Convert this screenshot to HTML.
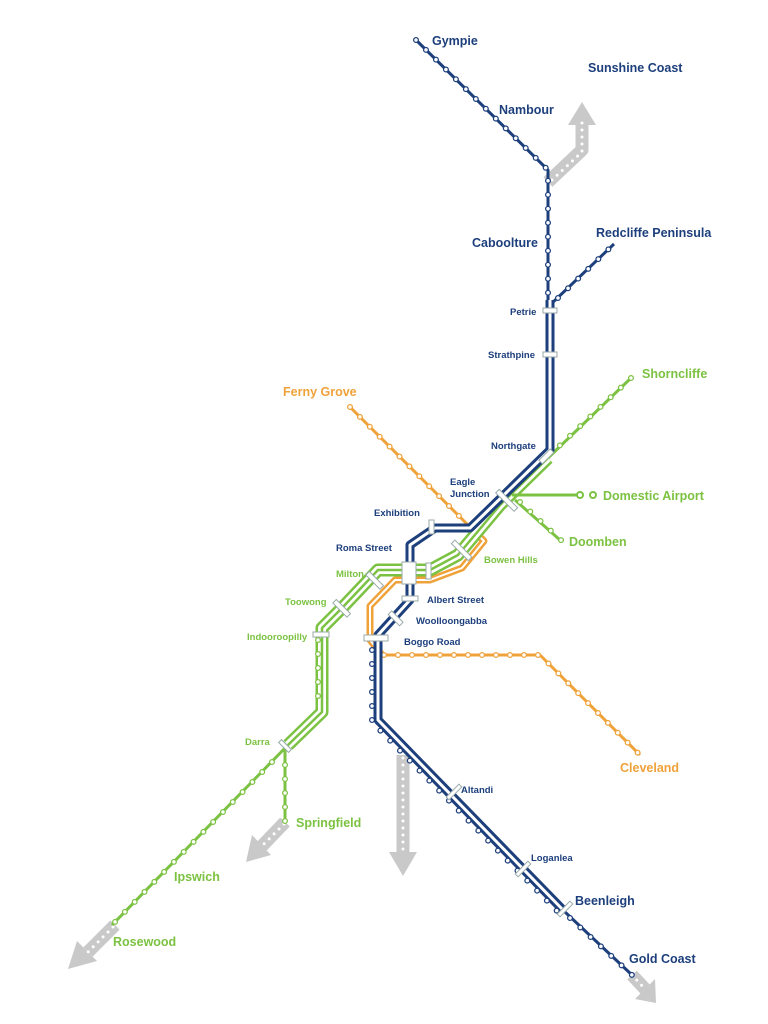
<!DOCTYPE html>
<html><head><meta charset="utf-8"><style>
html,body{margin:0;padding:0;background:#fff;}
svg{display:block}
text{font-family:"Liberation Sans",sans-serif;font-weight:bold}
</style></head><body>
<svg width="768" height="1024" viewBox="0 0 768 1024" xmlns="http://www.w3.org/2000/svg">
<defs>
<style>
.n{stroke:#1d3f7c;fill:none;stroke-linejoin:round}
.g{stroke:#7cc242;fill:none;stroke-linejoin:round}
.o{stroke:#f0a23a;fill:none;stroke-linejoin:round}
.w{stroke:#fff;fill:none;stroke-linejoin:round}
.ar{stroke:#c9c9c9;fill:none;stroke-width:13;stroke-linejoin:round}
.ad{stroke:#fff;fill:none;stroke-width:3;stroke-dasharray:0 7;stroke-linecap:round}
.dn{stroke:#1d3f7c;stroke-width:6;stroke-dasharray:0 14;stroke-linecap:round;fill:none}
.dw{stroke:#fff;stroke-width:3.5;stroke-dasharray:0 14;stroke-linecap:round;fill:none}
.dg{stroke:#7cc242;stroke-width:6;stroke-dasharray:0 14;stroke-linecap:round;fill:none}
.do{stroke:#f0a23a;stroke-width:6;stroke-dasharray:0 14;stroke-linecap:round;fill:none}
.bar{fill:#fff;stroke:#9aa;stroke-width:1}
</style>
</defs>
<!-- grey arrows -->
<polyline class="ar" points="548,182 582,150 582,125"/><polygon points="568,125 596,125 582,102" fill="#c9c9c9"/>
<polyline class="ad" points="552,180 582,152 582,122"/>
<polyline class="ar" points="403,755 403,855"/><polygon points="389,852 417,852 403,876" fill="#c9c9c9"/>
<polyline class="ad" points="403,758 403,852"/>
<polyline class="ar" points="285,822 262,846"/><polygon points="252,835 271,855 246,862" fill="#c9c9c9"/>
<polyline class="ad" points="284,824 262,846"/>
<polyline class="ar" points="115,925 88,952"/><polygon points="77,941 97,961 68,969" fill="#c9c9c9"/>
<polyline class="ad" points="113,927 88,952"/>
<polyline class="ar" points="632,975 646,990"/><polygon points="655,979 635,999 656,1003" fill="#c9c9c9"/>
<polyline class="ad" points="632,975 646,990"/>

<!-- orange -->
<polyline class="o" stroke-width="3" points="350,407 470,527"/>
<polyline class="o" stroke-width="7" points="470,527 484,541 462,568 430,580 395,580 370,606 370,640 382,655"/>
<polyline class="w" stroke-width="2" points="470,527 484,541 462,568 430,580 395,580 370,606 370,640 382,655"/>
<polyline class="o" stroke-width="3" points="380,655 540,655 640,755"/>
<polyline class="do" points="350,407 468,525"/><polyline class="dw" points="350,407 468,525"/>
<polyline class="do" points="384,655 540,655 640,755"/><polyline class="dw" points="384,655 540,655 640,755"/>

<!-- green -->
<polyline class="g" stroke-width="3" points="631,378 548,458"/>
<polyline class="g" stroke-width="13" points="548,458 500,505 458,555 430,570 378,570 342,608 322,628 322,712 288,745"/>
<polyline class="w" stroke-width="8" points="548,458 500,505 458,555 430,570 378,570 342,608 322,628 322,712 288,745"/>
<polyline class="g" stroke-width="2.5" points="548,458 500,505 458,555 430,570 378,570 342,608 322,628 322,712 288,745"/>
<polyline class="g" stroke-width="3" points="288,745 112,925"/>
<polyline class="g" stroke-width="3" points="285,748 285,822"/>
<polyline class="g" stroke-width="3" points="512,495 580,495"/>
<polyline class="g" stroke-width="3" points="515,500 560,540"/>
<polyline class="dg" points="631,378 555,450"/><polyline class="dw" points="631,378 555,450"/>
<polyline class="dg" points="272,762 112,925"/><polyline class="dw" points="272,762 112,925"/>
<polyline class="dg" points="285,765 285,822"/><polyline class="dw" points="285,765 285,822"/>
<polyline class="dg" points="318,640 318,705"/><polyline class="dw" points="318,640 318,705"/>
<polyline class="dg" points="520,502 562,541"/><polyline class="dw" points="520,502 562,541"/>
<circle cx="580" cy="495" r="3" fill="#fff" stroke="#7cc242" stroke-width="2"/><circle cx="593" cy="495" r="3" fill="#fff" stroke="#7cc242" stroke-width="2"/>

<!-- navy -->
<polyline class="n" stroke-width="3" points="416,40 548,170 548,300"/>
<polyline class="n" stroke-width="3" points="550,305 614,244"/>
<polyline class="n" stroke-width="9" points="550,300 550,450 470,528 435,528 410,545 410,600 378,635 378,720 565,912"/>
<polyline class="w" stroke-width="3" points="550,300 550,450 470,528 435,528 410,545 410,600 378,635 378,720 565,912"/>
<polyline class="n" stroke-width="3" points="565,912 632,975"/>
<polyline class="dn" points="416,40 548,170 548,300"/><polyline class="dw" points="416,40 548,170 548,300"/>
<polyline class="dn" points="558,298 614,244"/><polyline class="dw" points="558,298 614,244"/>
<polyline class="dn" points="372,650 372,722 558,912"/><polyline class="dw" points="372,650 372,722 558,912"/>
<polyline class="dn" points="570,918 632,975"/><polyline class="dw" points="570,918 632,975"/>

<!-- station bars -->
<rect class="bar" x="543" y="308" width="14" height="5"/>
<rect class="bar" x="543" y="352" width="14" height="5"/>
<rect class="bar" x="538" y="454" width="16" height="5" transform="rotate(-45 546 456)"/>
<rect class="bar" x="494" y="498" width="26" height="5" transform="rotate(45 507 500)"/>
<rect class="bar" x="429" y="520" width="5" height="14"/>
<rect class="bar" x="402" y="562" width="14" height="22"/>
<rect class="bar" x="426" y="563" width="5" height="16"/>
<rect class="bar" x="402" y="596" width="16" height="5"/>
<rect class="bar" x="388" y="616" width="16" height="5" transform="rotate(45 396 618)"/>
<rect class="bar" x="364" y="635" width="24" height="6"/>
<rect class="bar" x="445" y="790" width="18" height="4" transform="rotate(-45 454 792)"/>
<rect class="bar" x="514" y="867" width="18" height="4" transform="rotate(-45 523 869)"/>
<rect class="bar" x="556" y="907" width="18" height="4" transform="rotate(-45 565 909)"/>
<rect class="bar" x="450" y="548" width="24" height="5" transform="rotate(45 462 550)"/>
<rect class="bar" x="365" y="578" width="20" height="5" transform="rotate(45 375 580)"/>
<rect class="bar" x="332" y="606" width="20" height="5" transform="rotate(45 342 608)"/>
<rect class="bar" x="313" y="632" width="16" height="5"/>
<rect class="bar" x="278" y="744" width="14" height="4" transform="rotate(45 285 746)"/>

<!-- labels -->
<g fill="#1d3f7c">
<text x="432" y="45" font-size="12.5">Gympie</text>
<text x="588" y="72" font-size="12.5">Sunshine Coast</text>
<text x="499" y="114" font-size="12.5">Nambour</text>
<text x="472" y="247" font-size="12.5">Caboolture</text>
<text x="596" y="237" font-size="12.5">Redcliffe Peninsula</text>
<text x="510" y="315" font-size="9.5">Petrie</text>
<text x="488" y="358" font-size="9.5">Strathpine</text>
<text x="491" y="449" font-size="9.5">Northgate</text>
<text x="450" y="485" font-size="9.5">Eagle</text>
<text x="450" y="497" font-size="9.5">Junction</text>
<text x="374" y="516" font-size="9.5">Exhibition</text>
<text x="336" y="551" font-size="9.5">Roma Street</text>
<text x="427" y="603" font-size="9.5">Albert Street</text>
<text x="416" y="624" font-size="9.5">Woolloongabba</text>
<text x="404" y="645" font-size="9.5">Boggo Road</text>
<text x="461" y="793" font-size="9.5">Altandi</text>
<text x="531" y="861" font-size="9.5">Loganlea</text>
<text x="575" y="905" font-size="12.5">Beenleigh</text>
<text x="629" y="963" font-size="12.5">Gold Coast</text>
</g>
<g fill="#7cc242">
<text x="642" y="378" font-size="12.5">Shorncliffe</text>
<text x="603" y="500" font-size="12.5">Domestic Airport</text>
<text x="569" y="546" font-size="12.5">Doomben</text>
<text x="484" y="563" font-size="9.5">Bowen Hills</text>
<text x="336" y="577" font-size="9.5">Milton</text>
<text x="285" y="605" font-size="9.5">Toowong</text>
<text x="247" y="640" font-size="9.5">Indooroopilly</text>
<text x="245" y="745" font-size="9.5">Darra</text>
<text x="296" y="827" font-size="12.5">Springfield</text>
<text x="174" y="881" font-size="12.5">Ipswich</text>
<text x="113" y="946" font-size="12.5">Rosewood</text>
</g>
<g fill="#f0a23a">
<text x="283" y="396" font-size="12.5">Ferny Grove</text>
<text x="620" y="772" font-size="12.5">Cleveland</text>
</g>
</svg>
</body></html>
